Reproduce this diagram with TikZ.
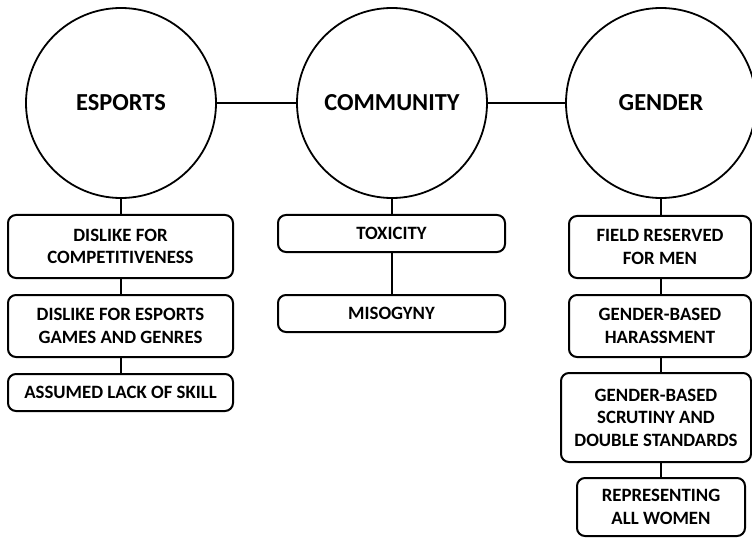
\documentclass[tikz,border=0pt]{standalone}
\usepackage{fontspec}
\setmainfont{Carlito}
\begin{document}
\begin{tikzpicture}[x=1pt,y=-1pt,
  topic/.style={circle, draw, line width=1.8pt, minimum size=190pt, inner sep=0pt,
    font=\fontsize{24.4}{28}\selectfont\bfseries},
  item/.style={draw, line width=2pt, rounded corners=8pt, inner sep=0pt, align=center,
    font=\fontsize{18.8}{22.5}\selectfont\bfseries},
  link/.style={line width=2pt}]
\useasboundingbox (0,0) rectangle (752,540);
\node[topic] (es) at (121,103) {ESPORTS};
\node[topic] (co) at (392,103) {COMMUNITY};
\node[topic] (ge) at (661,103) {GENDER};
% esports items
\node[item, minimum width=225pt, minimum height=63pt] (e1) at (120.5,246.5) {DISLIKE FOR\\COMPETITIVENESS};
\node[item, minimum width=225pt, minimum height=62pt] (e2) at (120.5,326) {DISLIKE FOR ESPORTS\\GAMES AND GENRES};
\node[item, minimum width=225pt, minimum height=37pt] (e3) at (120.5,392.5) {ASSUMED LACK OF SKILL};
% community items
\node[item, minimum width=227pt, minimum height=37pt] (c1) at (391.5,233.5) {TOXICITY};
\node[item, minimum width=227pt, minimum height=37pt] (c2) at (391.5,313.5) {MISOGYNY};
% gender items
\node[item, minimum width=182pt, minimum height=62pt] (g1) at (660,247) {FIELD RESERVED\\FOR MEN};
\node[item, minimum width=182pt, minimum height=62pt] (g2) at (660,326) {GENDER-BASED\\HARASSMENT};
\node[item, minimum width=190pt, minimum height=89pt] (g3) at (656,417.5) {GENDER-BASED\\SCRUTINY AND\\DOUBLE STANDARDS};
\node[item, minimum width=168pt, minimum height=58pt] (g4) at (661,507) {REPRESENTING\\ALL WOMEN};
% connectors
\draw[link] (es.east) -- (co.west);
\draw[link] (co.east) -- (ge.west);
\draw[link] (es.south) -- (es.south |- e1.north);
\draw[link] (e1.south -| es.south) -- (es.south |- e2.north);
\draw[link] (e2.south -| es.south) -- (es.south |- e3.north);
\draw[link] (co.south) -- (co.south |- c1.north);
\draw[link] (c1.south -| co.south) -- (co.south |- c2.north);
\draw[link] (ge.south) -- (ge.south |- g1.north);
\draw[link] (g1.south -| ge.south) -- (ge.south |- g2.north);
\draw[link] (g2.south -| ge.south) -- (ge.south |- g3.north);
\draw[link] (g3.south -| ge.south) -- (ge.south |- g4.north);
\end{tikzpicture}
\end{document}
